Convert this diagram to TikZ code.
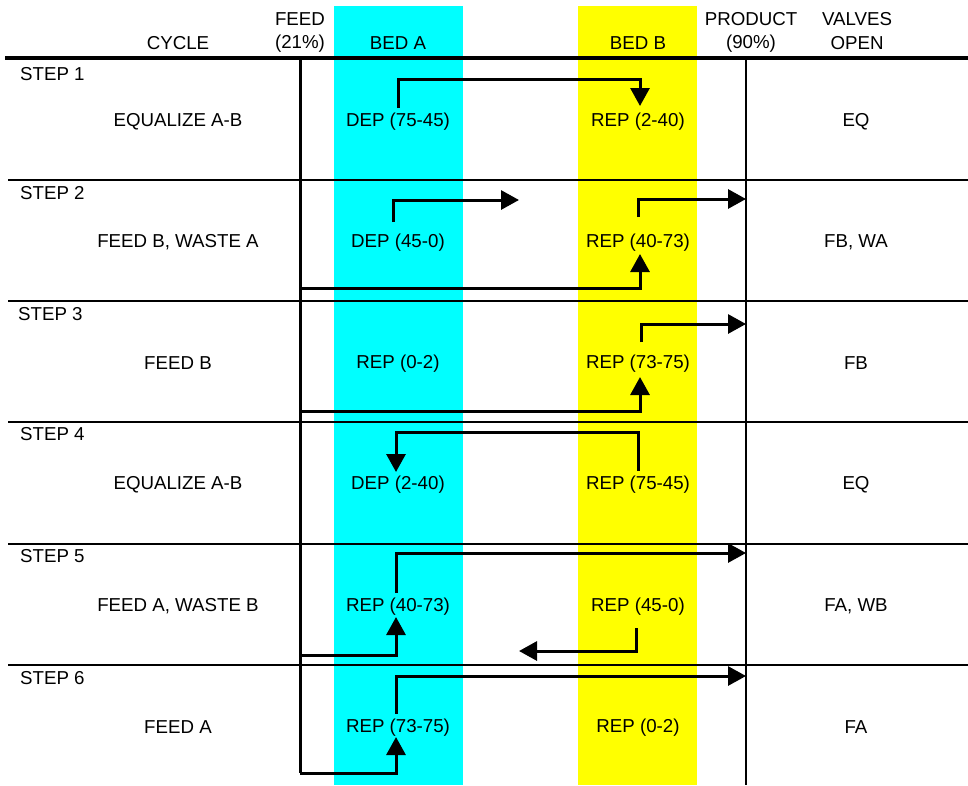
\documentclass[tikz,border=0pt]{standalone}
\usepackage{fontspec}
\setmainfont{Liberation Sans}
\usetikzlibrary{arrows.meta}
\definecolor{bedA}{RGB}{0,255,255}
\definecolor{bedB}{RGB}{255,255,0}
\tikzset{
  lbl/.style={font=\fontsize{18.7}{20}\selectfont, inner sep=0pt, anchor=center, yshift=-1.5pt},
  steplbl/.style={font=\fontsize{18.7}{20}\selectfont, inner sep=0pt, anchor=west, yshift=-1pt},
  flow/.style={line width=3pt, -{Triangle[width=19pt,length=18pt]}},
  pipe/.style={line width=3pt},
  rowline/.style={line width=2.3pt},
  headline/.style={line width=4pt},
}
\begin{document}
\begin{tikzpicture}[x=1pt,y=-1pt]
\useasboundingbox (0,0) rectangle (968,785);
% bed columns
\fill[bedA] (334,6) rectangle (463,785);
\fill[bedB] (578,6) rectangle (697,785);
% grid
\draw[headline] (5,58) -- (968,58);
\foreach \yy in {180,301,422,544,665}{\draw[rowline] (8,\yy) -- (968,\yy);}
% header
\node[lbl] (hcyc) at (178,42) {CYCLE};
\node[lbl] (hfeed1) at (300,18) {FEED};
\node[lbl] (hfeed2) at (300,42) {(21\%)};
\node[lbl] (hbeda) at (398,42) {BED A};
\node[lbl] (hbedb) at (638,42) {BED B};
\node[lbl] (hprod1) at (751,18) {PRODUCT};
\node[lbl] (hprod2) at (751,42) {(90\%)};
\node[lbl] (hval1) at (857,18) {VALVES};
\node[lbl] (hval2) at (857,42) {OPEN};
% step labels
\node[steplbl] (s1) at (20,73) {STEP 1};
\node[steplbl] (s2) at (20,192) {STEP 2};
\node[steplbl] (s3) at (18,313) {STEP 3};
\node[steplbl] (s4) at (20,433) {STEP 4};
\node[steplbl] (s5) at (20,555) {STEP 5};
\node[steplbl] (s6) at (20,677) {STEP 6};
% cycle
\node[lbl] (c1) at (178,120) {EQUALIZE A-B};
\node[lbl] (c2) at (178,241) {FEED B, WASTE A};
\node[lbl] (c3) at (178,362) {FEED B};
\node[lbl] (c4) at (178,483) {EQUALIZE A-B};
\node[lbl] (c5) at (178,605) {FEED A, WASTE B};
\node[lbl] (c6) at (178,726) {FEED A};
% bed A
\node[lbl] (a1) at (398,120) {DEP (75-45)};
\node[lbl] (a2) at (398,241) {DEP (45-0)};
\node[lbl] (a3) at (398,362) {REP (0-2)};
\node[lbl] (a4) at (398,483) {DEP (2-40)};
\node[lbl] (a5) at (398,605) {REP (40-73)};
\node[lbl] (a6) at (398,726) {REP (73-75)};
% bed B
\node[lbl] (b1) at (638,120) {REP (2-40)};
\node[lbl] (b2) at (638,241) {REP (40-73)};
\node[lbl] (b3) at (638,362) {REP (73-75)};
\node[lbl] (b4) at (638,483) {REP (75-45)};
\node[lbl] (b5) at (638,605) {REP (45-0)};
\node[lbl] (b6) at (638,726) {REP (0-2)};
% valves
\node[lbl] (v1) at (856,120) {EQ};
\node[lbl] (v2) at (856,241) {FB, WA};
\node[lbl] (v3) at (856,362) {FB};
\node[lbl] (v4) at (856,483) {EQ};
\node[lbl] (v5) at (856,605) {FA, WB};
\node[lbl] (v6) at (856,726) {FA};
% feed and product lines
\coordinate (feedtop) at (300,59);
\coordinate (feedbot) at (300,773);
\coordinate (prodtop) at (746,59);
\coordinate (prodbot) at (746,785);
\draw[pipe] (feedtop) -- (feedbot);
\draw[line width=2.5pt] (prodtop) -- (prodbot);
% step 1
\coordinate (p1a) at (398,108);
\coordinate (p1b) at (640,106);
\draw[flow] (p1a) -- (398,79) -| (p1b);
% step 2
\coordinate (p2a) at (393,222);
\coordinate (w2) at (519,200);
\draw[flow] (p2a) -- (393,200) -- (w2);
\coordinate (p2b) at (638,217);
\coordinate (o2) at (746,199);
\draw[flow] (p2b) -- (638,199) -- (o2);
\coordinate (f2) at (300,288);
\coordinate (i2) at (640,254);
\draw[flow] (f2) -| (i2);
% step 3
\coordinate (f3) at (300,411);
\coordinate (i3) at (640,377);
\draw[flow] (f3) -| (i3);
\coordinate (p3b) at (641,342);
\coordinate (o3) at (746,324);
\draw[flow] (p3b) -- (641,324) -- (o3);
% step 4
\coordinate (p4b) at (638,471);
\coordinate (i4) at (396,472);
\draw[flow] (p4b) -- (638,432) -| (i4);
% step 5
\coordinate (p5a) at (396,593);
\coordinate (o5) at (746,553);
\draw[flow] (p5a) -- (396,553) -- (o5);
\coordinate (f5) at (300,655);
\coordinate (i5) at (396,617);
\draw[flow] (f5) -| (i5);
\coordinate (p5b) at (636,628);
\coordinate (w5) at (519,651);
\draw[flow] (p5b) -- (636,651) -- (w5);
% step 6
\coordinate (p6a) at (396,714);
\coordinate (o6) at (746,676);
\draw[flow] (p6a) -- (396,676) -- (o6);
\coordinate (i6) at (396,737);
\draw[flow] (feedbot) -| (i6);
\end{tikzpicture}
\end{document}
